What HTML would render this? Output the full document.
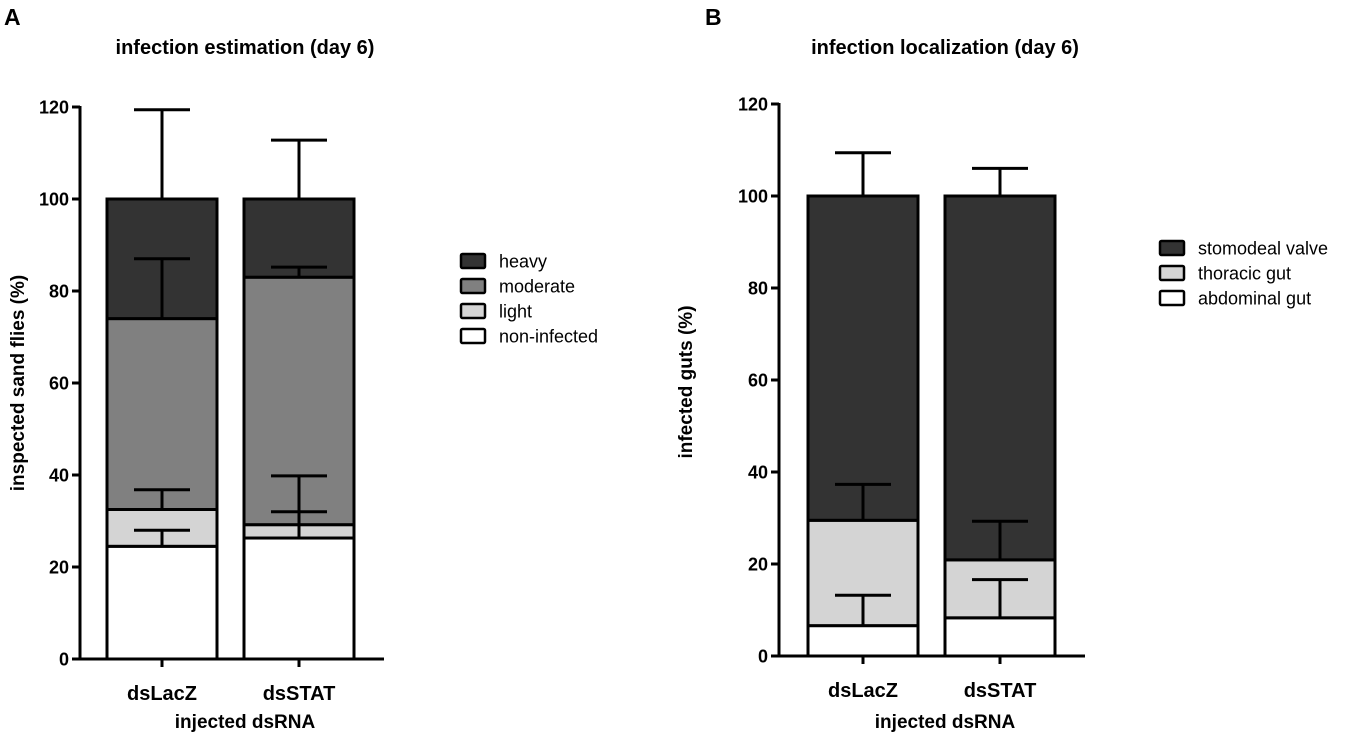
<!DOCTYPE html>
<html><head><meta charset="utf-8"><style>
html,body{margin:0;padding:0;background:#fff}
svg{display:block;font-family:"Liberation Sans",Arial,sans-serif}
</style></head><body>
<svg id="c" width="1348" height="733" viewBox="0 0 1348 733"></svg>
<script>
const categories = ["dsLacZ", "dsSTAT"];
const yTicks = [0, 20, 40, 60, 80, 100, 120];
const aSeries = ["non-infected", "light", "moderate", "heavy"];
const aLacZTops = [24.5, 32.5, 74, 100];
const aStatTops = [26.3, 29.2, 83, 100];
const aLacZErr = [28, 36.8, 87, 119.4];
const aStatErr = [32, 39.8, 85.2, 112.8];
const bSeries = ["abdominal gut", "thoracic gut", "stomodeal valve"];
const bLacZTops = [6.6, 29.5, 100];
const bStatTops = [8.3, 20.9, 100];
const bLacZErr = [13.2, 37.3, 109.4];
const bStatErr = [16.6, 29.3, 106];

const NS = "http://www.w3.org/2000/svg";
const svg = document.getElementById("c");
function mk(tag, attrs, parent, text) {
  const e = document.createElementNS(NS, tag);
  for (const k in attrs) e.setAttribute(k, attrs[k]);
  if (text !== undefined) e.textContent = text;
  (parent || svg).appendChild(e);
  return e;
}

function panel(cfg) {
  const g = mk("g", {});
  
  
  const y = v => cfg.y0 - v * (cfg.y0 - cfg.y120) / 120;
  cfg.tops.forEach((tops, ci) => {
    const cx = cfg.centers[ci];
    let prev = 0;
    tops.forEach((t, si) => {
      const r = mk("rect", {x: cx - cfg.bw / 2, y: y(t), width: cfg.bw, height: y(prev) - y(t),
        fill: cfg.colors[si], stroke: "#000", "stroke-width": 3}, g);
      
      
      prev = t;
    });
    tops.forEach((t, si) => {
      const e = cfg.errs[ci][si];
      const eg = mk("g", {stroke: "#000", "stroke-width": 3}, g);
      
      
      mk("line", {x1: cx, x2: cx, y1: y(t), y2: y(e)}, eg);
      mk("line", {x1: cx - 28, x2: cx + 28, y1: y(e), y2: y(e)}, eg);
    });
  });
  const ax = mk("g", {stroke: "#000", "stroke-width": 3}, g);
  
  
  mk("line", {x1: cfg.ax, x2: cfg.ax, y1: y(120) - 1, y2: cfg.y0 + 1}, ax);
  mk("line", {x1: cfg.ax - 8, x2: cfg.axEnd, y1: cfg.y0, y2: cfg.y0}, ax);
  yTicks.forEach(t => {
    mk("line", {x1: cfg.ax - 8, x2: cfg.ax, y1: y(t), y2: y(t)}, ax);
    const l = mk("text", {x: cfg.ax - 11, y: y(t) + 6.5, "text-anchor": "end", "font-size": 18, "font-weight": "bold"}, g, t);
    
    
  });
  categories.forEach((c, ci) => {
    mk("line", {x1: cfg.centers[ci], x2: cfg.centers[ci], y1: cfg.y0, y2: cfg.y0 + 8}, ax);
    const l = mk("text", {x: cfg.centers[ci], y: cfg.y0 + 41, "text-anchor": "middle", "font-size": 20, "font-weight": "bold"}, g, c);
    
    
  });
  const t1 = mk("text", {x: cfg.tx, y: 54, "text-anchor": "middle", "font-size": 20, "font-weight": "bold"}, g, cfg.title);
  
  
  const t2 = mk("text", {x: cfg.letterX, y: 25, "font-size": 23, "font-weight": "bold"}, g, cfg.letter);
  
  
  const xl = mk("text", {x: cfg.tx, y: 728, "text-anchor": "middle", "font-size": 19, "font-weight": "bold"}, g, "injected dsRNA");
  
  
  const yl = mk("text", {x: 0, y: 0, "text-anchor": "middle", "font-size": 19, "font-weight": "bold",
    transform: `translate(${cfg.ylx},${cfg.yly}) rotate(-90)`}, g, cfg.ylabel);
  
  
  const lg = mk("g", {}, g);
  
  
  const n = cfg.series.length;
  for (let i = 0; i < n; i++) {
    const si = n - 1 - i;
    const yy = cfg.legY + i * 25;
    const e = mk("g", {}, lg);
    
    
    mk("rect", {x: cfg.legX, y: yy - 7, width: 24, height: 14, fill: cfg.colors[si], stroke: "#000", "stroke-width": 2.5, rx: 1.5}, e);
    mk("text", {x: cfg.legX + 38, y: yy + 6.5, "font-size": 18}, e, cfg.series[si]);
  }
}

const aColors = ["#ffffff", "#d4d4d4", "#808080", "#333333"];
const bColors = ["#ffffff", "#d4d4d4", "#333333"];
panel({name: "panel-a", y0: 659, y120: 107, ax: 80, axEnd: 384, centers: [162, 299], bw: 110,
  tops: [aLacZTops, aStatTops], errs: [aLacZErr, aStatErr], colors: aColors, series: aSeries,
  title: "infection estimation (day 6)", tx: 245, letter: "A", letterX: 4,
  ylabel: "inspected sand flies (%)", ylx: 24, yly: 383, legX: 461, legY: 261});
panel({name: "panel-b", y0: 656, y120: 104, ax: 779, axEnd: 1085, centers: [863, 1000], bw: 110,
  tops: [bLacZTops, bStatTops], errs: [bLacZErr, bStatErr], colors: bColors, series: bSeries,
  title: "infection localization (day 6)", tx: 945, letter: "B", letterX: 705,
  ylabel: "infected guts (%)", ylx: 692, yly: 382, legX: 1160, legY: 248});
</script>
</body></html>
